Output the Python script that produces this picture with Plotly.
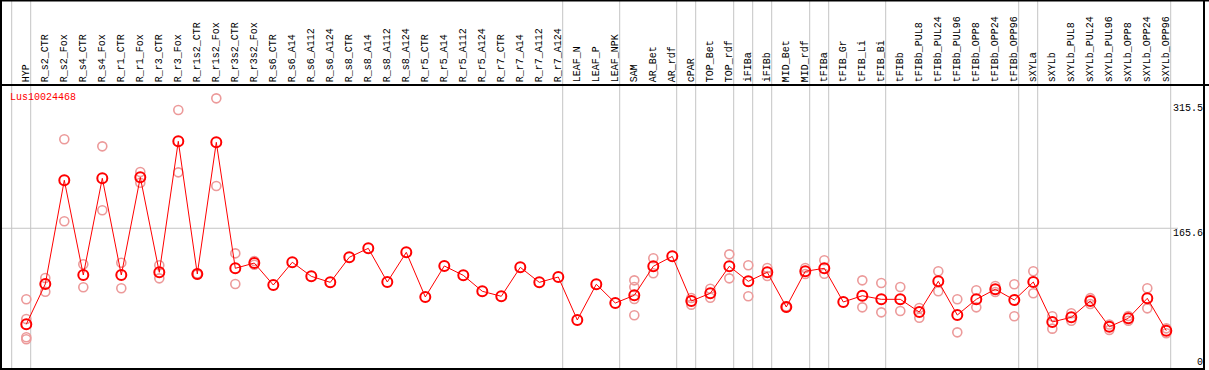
import plotly.graph_objects as go

gene = "Lus10024468"

categories = ["HYP", "R_s2_CTR", "R_s2_Fox", "R_s4_CTR", "R_s4_Fox", "R_r1_CTR", "R_r1_Fox",
              "R_r3_CTR", "R_r3_Fox", "R_r1s2_CTR", "R_r1s2_Fox", "R_r3s2_CTR", "R_r3s2_Fox",
              "R_s6_CTR", "R_s6_A14", "R_s6_A112", "R_s6_A124", "R_s8_CTR", "R_s8_A14",
              "R_s8_A112", "R_s8_A124", "R_r5_CTR", "R_r5_A14", "R_r5_A112", "R_r5_A124",
              "R_r7_CTR", "R_r7_A14", "R_r7_A112", "R_r7_A124", "LEAF_N", "LEAF_P", "LEAF_NPK",
              "SAM", "AR_Bet", "AR_rdf", "cPAR", "TOP_Bet", "TOP_rdf", "iFIBa", "iFIBb",
              "MID_Bet", "MID_rdf", "tFIBa", "tFIB_Gr", "tFIB_Li", "tFIB_Bi", "tFIBb",
              "tFIBb_PUL8", "tFIBb_PUL24", "tFIBb_PUL96", "tFIBb_OPP8", "tFIBb_OPP24",
              "tFIBb_OPP96", "sXYLa", "sXYLb", "sXYLb_PUL8", "sXYLb_PUL24", "sXYLb_PUL96",
              "sXYLb_OPP8", "sXYLb_OPP24", "sXYLb_OPP96"]

mean_values = [50.7, 98.9, 223.0, 109.7, 225.4, 109.7, 226.5, 112.9, 269.6, 110.9, 268.4,
               117.7, 124.0, 97.7, 124.9, 108.1, 100.9, 130.9, 141.6, 101.3, 136.8, 83.4,
               120.5, 109.3, 90.2, 84.2, 118.9, 100.9, 107.3, 55.9, 98.6, 76.2, 85.4, 120.1,
               132.0, 78.6, 87.8, 120.1, 102.1, 112.9, 71.4, 114.1, 117.7, 77.4, 84.9, 80.6,
               80.6, 65.4, 102.1, 61.8, 80.6, 92.6, 79.8, 101.3, 53.5, 59.1, 78.6, 47.8, 57.9,
               81.8, 43.1]

replicate_values = [
    [80.6, 57.1, 35.2, 32.8], [106.1, 89.7], [272.0, 173.9], [122.5, 95.0], [263.6, 187.1],
    [124.4, 93.8], [232.9, 220.1], [121.3, 105.7], [307.0, 232.5], [111.5, 110.3],
    [321.0, 216.1], [135.6, 98.9], [126.4, 122.0], [], [], [], [], [], [], [], [], [],
    [], [], [], [], [], [], [], [], [], [],
    [103.3, 95.3, 81.0, 61.5], [129.7, 111.7], [], [82.2, 74.2], [93.3, 82.5],
    [134.4, 105.7], [121.3, 84.2], [118.1, 108.5], [72.0, 70.8], [118.1, 110.9],
    [127.3, 111.2], [], [103.3, 71.0], [100.1, 65.0], [95.3, 66.6], [70.2, 58.6],
    [114.1, 90.2], [80.6, 41.1], [91.4, 71.0], [96.5, 89.4], [98.6, 60.3], [114.1, 87.8],
    [60.3, 45.5], [63.9, 55.0], [82.0, 75.0], [50.5, 44.0], [60.7, 55.0], [93.8, 69.8],
    [45.9, 40.0]]

# separators drawn after these category indices
group_ends = [-1, 0, 28, 31, 34, 35, 37, 38, 39, 41, 42, 45, 52, 53, 60]

tick_values = [315.5, 165.6, 0]

W, H = 1209, 370
X0, DX = 26.3, 19.0
Y0, DY = 366.7, 0.836

xi = list(range(len(categories)))
rep_x, rep_y = [], []
for i, reps in enumerate(replicate_values):
    for r in reps:
        rep_x.append(i)
        rep_y.append(r)

fig = go.Figure()
fig.add_trace(go.Scatter(x=rep_x, y=rep_y, mode="markers",
                         marker=dict(symbol="circle-open", size=9, color="#ec9a9a",
                                     line=dict(width=1.6, color="#ec9a9a")),
                         hoverinfo="skip", showlegend=False))
fig.add_trace(go.Scatter(x=xi, y=mean_values, mode="lines+markers",
                         line=dict(color="#ff0000", width=1),
                         marker=dict(symbol="circle-open", size=10, color="#ff0000",
                                     line=dict(width=2, color="#ff0000")),
                         showlegend=False))

shapes = []
grey = "#c4c4c4"
for g in group_ends:
    xs = g + 4.4 / DX
    shapes.append(dict(type="line", xref="x", yref="paper", x0=xs, x1=xs, y0=0, y1=1,
                       line=dict(color=grey, width=1), layer="below"))
shapes.append(dict(type="line", xref="paper", yref="y", x0=1 / W, x1=1178 / W,
                   y0=tick_values[1], y1=tick_values[1], line=dict(color=grey, width=1),
                   layer="below"))

def pline(x0, y0, x1, y1, w=2):
    return dict(type="line", xref="paper", yref="paper", x0=x0 / W, x1=x1 / W,
                y0=1 - y0 / H, y1=1 - y1 / H, line=dict(color="black", width=w))

shapes += [pline(0, 0.5, W, 0.5), pline(0, 85, W, 85), pline(0, 369, 1204, 369),
           pline(1, 0, 1, 370), pline(1204, 0, 1204, 370)]

annotations = []
mono = "Liberation Mono"
for i, c in enumerate(categories):
    annotations.append(dict(x=i, y=1 - 84 / H, xref="x", yref="paper", text=c,
                            textangle=-90, showarrow=False, xanchor="center",
                            yanchor="bottom", font=dict(family=mono, size=10, color="black")))
annotations.append(dict(x=8 / W, y=1 - 90 / H, xref="paper", yref="paper", text=gene,
                        showarrow=False, xanchor="left", yanchor="top",
                        font=dict(family=mono, size=10, color="#ff0000")))
for t in tick_values:
    annotations.append(dict(x=1205 / W, y=t, xref="paper", yref="y", text=f"{t:g}",
                            showarrow=False, xanchor="right",
                            yanchor="bottom" if t == 0 else "top",
                            yshift=-3 if t == 0 else 2,
                            font=dict(family=mono, size=10, color="black")))

fig.update_layout(
    width=W, height=H, margin=dict(l=0, r=0, t=0, b=0),
    paper_bgcolor="white", plot_bgcolor="white",
    xaxis=dict(range=[(0 - X0) / DX, (W - X0) / DX], showgrid=False, zeroline=False,
               showticklabels=False, fixedrange=True),
    yaxis=dict(range=[(Y0 - H) / DY, Y0 / DY], showgrid=False, zeroline=False,
               showticklabels=False, fixedrange=True),
    shapes=shapes, annotations=annotations,
)

fig.write_html("out.html", config={"displayModeBar": False, "staticPlot": True},
               post_script="document.body.style.margin='0';document.body.style.overflow='hidden';")
